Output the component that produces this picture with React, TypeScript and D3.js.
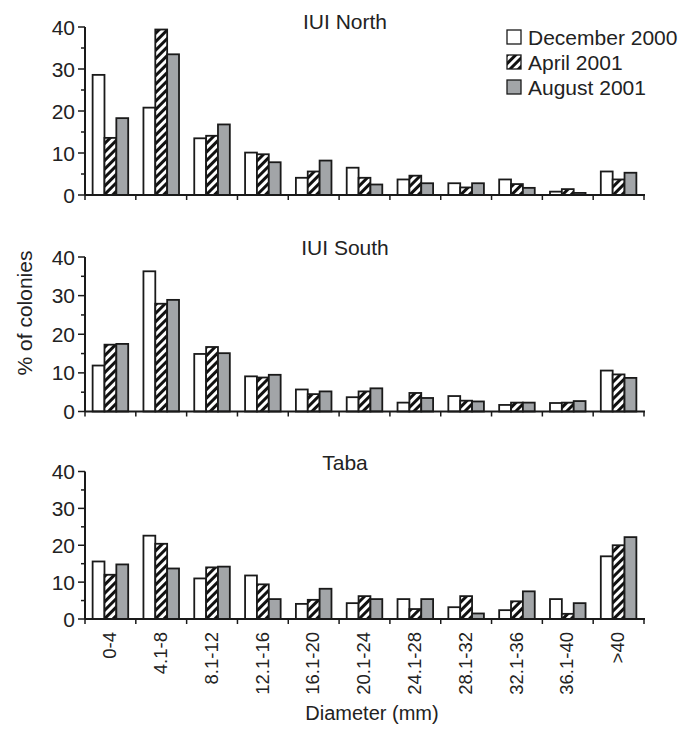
import React, { useEffect, useRef } from 'react';
import * as d3 from 'd3';

const categories = ['0-4', '4.1-8', '8.1-12', '12.1-16', '16.1-20', '20.1-24', '24.1-28', '28.1-32', '32.1-36', '36.1-40', '>40'];
const seriesNames = ['December 2000', 'April 2001', 'August 2001'];

const northDec = [28.6, 20.8, 13.5, 10.1, 4.1, 6.5, 3.7, 2.8, 3.7, 0.8, 5.6];
const northApr = [13.6, 39.4, 14.1, 9.7, 5.6, 4.1, 4.6, 1.8, 2.6, 1.4, 3.7];
const northAug = [18.3, 33.5, 16.8, 7.8, 8.2, 2.5, 2.8, 2.8, 1.7, 0.5, 5.3];

const southDec = [11.9, 36.3, 14.9, 9.1, 5.7, 3.7, 2.3, 4.0, 1.7, 2.2, 10.6];
const southApr = [17.3, 27.9, 16.7, 8.8, 4.5, 5.2, 4.8, 2.8, 2.3, 2.3, 9.6];
const southAug = [17.5, 28.9, 15.1, 9.5, 5.2, 6.0, 3.5, 2.6, 2.3, 2.7, 8.7];

const tabaDec = [15.6, 22.6, 11.0, 11.8, 4.1, 4.3, 5.4, 3.2, 2.4, 5.4, 17.0];
const tabaApr = [12.0, 20.4, 14.0, 9.4, 5.2, 6.2, 2.7, 6.2, 4.8, 1.4, 20.0];
const tabaAug = [14.8, 13.7, 14.2, 5.4, 8.2, 5.4, 5.4, 1.5, 7.5, 4.3, 22.2];

const yTicks = [0, 10, 20, 30, 40];

const panels = [
  { title: 'IUI North', top: 27, bottom: 195, titleY: 29, data: [northDec, northApr, northAug] },
  { title: 'IUI South', top: 257, bottom: 411.5, titleY: 255, data: [southDec, southApr, southAug] },
  { title: 'Taba', top: 471.5, bottom: 619, titleY: 470, data: [tabaDec, tabaApr, tabaAug] },
];

const fills = ['#ffffff', 'url(#hatch)', '#a2a5a8'];
const FONT = 'Liberation Sans, Arial, Helvetica, sans-serif';

export default function App() {
  const ref = useRef<SVGSVGElement>(null);

  useEffect(() => {
    const svg = d3.select(ref.current);
    svg.selectAll('*').remove();

    const defs = svg.append('defs');
    const pat = defs.append('pattern')
      .attr('id', 'hatch')
      .attr('patternUnits', 'userSpaceOnUse')
      .attr('width', 6)
      .attr('height', 6)
      .attr('patternTransform', 'rotate(45)');
    pat.append('rect').attr('width', 6).attr('height', 6).attr('fill', '#fff');
    pat.append('line')
      .attr('x1', 1.5).attr('y1', 0).attr('x2', 1.5).attr('y2', 6)
      .attr('stroke', '#111').attr('stroke-width', 3);

    const x = d3.scaleBand<string>()
      .domain(categories)
      .range([85, 644])
      .paddingInner(0.3)
      .paddingOuter(0.15);
    const xs = d3.scaleBand<number>()
      .domain([0, 1, 2])
      .range([0, x.bandwidth()]);
    const step = x.step();
    const bounds = d3.range(categories.length + 1).map(i => 85 + i * step);

    panels.forEach(p => {
      const y = d3.scaleLinear().domain([0, 40]).range([p.bottom, p.top]);
      const g = svg.append('g');

      // bars
      p.data.forEach((vals, s) => {
        g.selectAll(null)
          .data(vals)
          .enter().append('rect')
          .attr('x', (d, i) => (x(categories[i]) as number) + (xs(s) as number))
          .attr('y', d => y(d))
          .attr('width', xs.bandwidth())
          .attr('height', d => y(0) - y(d))
          .attr('fill', fills[s])
          .attr('stroke', '#1a1a1a')
          .attr('stroke-width', 1.8);
      });

      // y axis
      g.append('line')
        .attr('x1', 85).attr('x2', 85)
        .attr('y1', y(40)).attr('y2', y(0))
        .attr('stroke', '#1a1a1a').attr('stroke-width', 2);
      g.selectAll(null)
        .data(d3.range(0, 41, 5))
        .enter().append('line')
        .attr('x1', d => (d % 10 === 0 ? 78 : 81)).attr('x2', 85)
        .attr('y1', d => y(d)).attr('y2', d => y(d))
        .attr('stroke', '#1a1a1a').attr('stroke-width', 1.5);
      g.selectAll(null)
        .data(yTicks)
        .enter().append('text')
        .text(d => d)
        .attr('x', 75)
        .attr('y', d => y(d))
        .attr('dy', '0.36em')
        .attr('text-anchor', 'end')
        .attr('font-family', FONT)
        .attr('font-size', 21)
        .attr('fill', '#222');

      // x axis
      g.append('line')
        .attr('x1', 85).attr('x2', 645)
        .attr('y1', y(0)).attr('y2', y(0))
        .attr('stroke', '#1a1a1a').attr('stroke-width', 2);
      g.selectAll(null)
        .data(bounds)
        .enter().append('line')
        .attr('x1', d => d).attr('x2', d => d)
        .attr('y1', y(0)).attr('y2', y(0) + 5)
        .attr('stroke', '#1a1a1a').attr('stroke-width', 1.5);

      g.append('text')
        .text(p.title)
        .attr('x', 345)
        .attr('y', p.titleY)
        .attr('text-anchor', 'middle')
        .attr('font-family', FONT)
        .attr('font-size', 21)
        .attr('fill', '#222');
    });

    // x tick labels
    svg.append('g').selectAll(null)
      .data(categories)
      .enter().append('text')
      .text(d => d)
      .attr('transform', d => `translate(${(x(d) as number) + x.bandwidth() / 2 - 1},632) rotate(-90)`)
      .attr('dy', '0.36em')
      .attr('text-anchor', 'end')
      .attr('font-family', FONT)
      .attr('font-size', 18.5)
      .attr('fill', '#222');

    svg.append('text')
      .text('Diameter (mm)')
      .attr('x', 372)
      .attr('y', 720)
      .attr('text-anchor', 'middle')
      .attr('font-family', FONT)
      .attr('font-size', 20)
      .attr('fill', '#222');

    svg.append('text')
      .text('% of colonies')
      .attr('transform', 'translate(24,313) rotate(-90)')
      .attr('dy', '0.36em')
      .attr('text-anchor', 'middle')
      .attr('font-family', FONT)
      .attr('font-size', 21)
      .attr('fill', '#222');

    // legend
    const leg = svg.append('g');
    seriesNames.forEach((name, i) => {
      const cy = 37 + i * 25;
      leg.append('rect')
        .attr('x', 507).attr('y', cy - 7)
        .attr('width', 14).attr('height', 14)
        .attr('fill', fills[i])
        .attr('stroke', '#1a1a1a').attr('stroke-width', 1.3);
      leg.append('text')
        .text(name)
        .attr('x', 528).attr('y', cy)
        .attr('dy', '0.36em')
        .attr('font-family', FONT)
        .attr('font-size', 21)
        .attr('fill', '#222');
    });
  }, []);

  return (
    <svg
      ref={ref}
      width={695}
      height={742}
      style={{ position: 'absolute', left: 0, top: 0, background: '#fff' }}
    />
  );
}
